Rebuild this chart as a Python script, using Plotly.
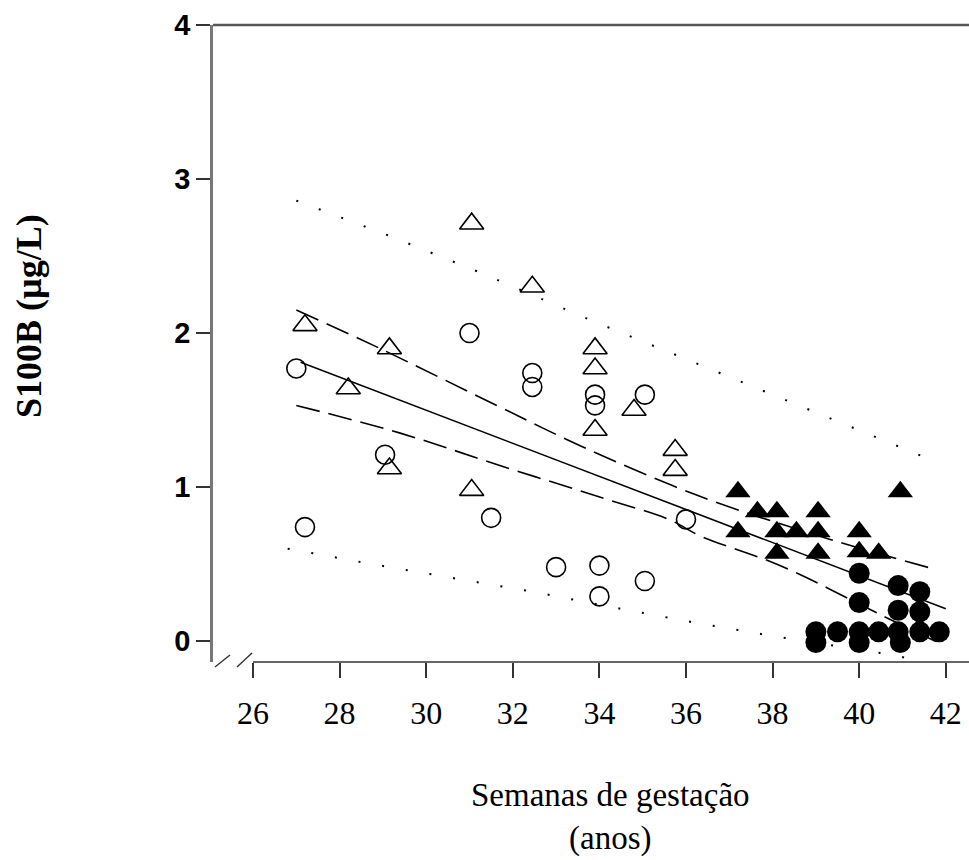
import plotly.graph_objects as go

# ---------------- data ----------------
# open triangles
open_tri_x = [27.2, 28.2, 29.15, 29.15, 31.05, 31.05, 32.45, 33.9, 33.9, 33.9, 34.8, 35.75, 35.75]
open_tri_y = [2.05, 1.64, 1.90, 1.12, 2.71, 0.98, 2.30, 1.90, 1.77, 1.37, 1.50, 1.24, 1.11]
# open circles
open_circ_x = [27.0, 27.2, 29.05, 31.0, 31.5, 32.45, 32.45, 33.0, 33.9, 33.9, 34.0, 34.0, 35.05, 35.05, 36.0]
open_circ_y = [1.77, 0.74, 1.21, 2.00, 0.80, 1.74, 1.65, 0.48, 1.60, 1.53, 0.49, 0.29, 1.60, 0.39, 0.79]
# filled triangles
fill_tri_x = [37.2, 37.2, 37.65, 38.1, 38.1, 38.1, 38.55, 39.05, 39.05, 39.05, 40.0, 40.0, 40.45, 40.95]
fill_tri_y = [0.97, 0.71, 0.84, 0.84, 0.71, 0.57, 0.71, 0.84, 0.71, 0.57, 0.71, 0.58, 0.57, 0.97]
# filled circles
fill_circ_x = [39.0, 39.0, 39.5, 40.0, 40.0, 40.0, 40.0, 40.45, 40.9, 40.9, 40.9, 40.95, 41.4, 41.4, 41.4, 41.85]
fill_circ_y = [0.06, -0.01, 0.06, 0.44, 0.25, 0.06, -0.01, 0.06, 0.36, 0.20, 0.06, -0.01, 0.32, 0.19, 0.06, 0.06]

# regression line
reg_x = [27.1, 42.0]
reg_y = [1.81, 0.21]
# confidence band (dashed)
ci_up_x = [27.0, 28.93, 31.7, 33.62, 36.32, 39.33, 41.7]
ci_up_y = [2.15, 1.90, 1.52, 1.26, 0.94, 0.66, 0.47]
ci_lo_x = [27.0, 29.4, 31.7, 34.06, 35.6, 36.35, 37.82, 38.57, 39.3, 40.5, 41.9]
ci_lo_y = [1.53, 1.35, 1.14, 0.93, 0.79, 0.68, 0.53, 0.44, 0.34, 0.17, -0.02]
# prediction band (dotted)
pr_up_x = [27.0, 29.16, 31.27, 33.83, 36.44, 39.02, 41.63]
pr_up_y = [2.86, 2.63, 2.39, 2.08, 1.78, 1.48, 1.18]
pr_lo_x = [26.8, 28.74, 30.6, 32.47, 34.3, 36.2, 38.06, 40.55, 41.1]
pr_lo_y = [0.60, 0.50, 0.41, 0.32, 0.22, 0.12, 0.03, -0.08, -0.11]

x_ticks = [26, 28, 30, 32, 34, 36, 38, 40, 42]
y_ticks = [0, 1, 2, 3, 4]

X_RANGE = [25.076, 42.536]
Y_RANGE = [-0.136, 4.0]

W, H = 969, 860
ML, MR, MT, MB = 213, 0, 25, 198
PW, PH = W - ML - MR, H - MT - MB


def px_to_paper(px, py):
    return (px - ML) / PW, (H - MB - py) / PH


fig = go.Figure()

line_style = dict(color="black", width=1.6)
fig.add_trace(go.Scatter(x=pr_up_x, y=pr_up_y, mode="lines", line=dict(color="black", width=2, dash="2px,22px")))
fig.add_trace(go.Scatter(x=pr_lo_x, y=pr_lo_y, mode="lines", line=dict(color="black", width=2, dash="2px,22px")))
fig.add_trace(go.Scatter(x=ci_up_x, y=ci_up_y, mode="lines", line_shape="spline",
                         line=dict(color="black", width=1.6, dash="24px,9px")))
fig.add_trace(go.Scatter(x=ci_lo_x, y=ci_lo_y, mode="lines", line_shape="spline",
                         line=dict(color="black", width=1.6, dash="24px,9px")))
fig.add_trace(go.Scatter(x=reg_x, y=reg_y, mode="lines", line=line_style))

fig.add_trace(go.Scatter(x=open_circ_x, y=open_circ_y, mode="markers",
                         marker=dict(symbol="circle-open", size=19, color="black", line=dict(width=1.6))))
fig.add_trace(go.Scatter(x=open_tri_x, y=open_tri_y, mode="markers",
                         marker=dict(symbol="triangle-up-open", size=21, color="black", line=dict(width=1.6))))
fig.add_trace(go.Scatter(x=fill_tri_x, y=fill_tri_y, mode="markers",
                         marker=dict(symbol="triangle-up", size=22, color="black", line=dict(width=0))))
fig.add_trace(go.Scatter(x=fill_circ_x, y=fill_circ_y, mode="markers",
                         marker=dict(symbol="circle", size=21, color="black", line=dict(width=0))))

# frame pieces: top line, bottom axis line starting at 26
x26 = (26 - X_RANGE[0]) / (X_RANGE[1] - X_RANGE[0])
fig.add_shape(type="line", xref="paper", yref="paper", x0=0, x1=1, y0=1, y1=1,
              line=dict(color="#555555", width=2.5))
fig.add_shape(type="line", xref="paper", yref="paper", x0=x26, x1=1, y0=0, y1=0,
              line=dict(color="#333333", width=1.6))
# axis break marks
for (a, b) in [((215, 667), (230, 655)), ((237, 667), (252, 653))]:
    x0, y0 = px_to_paper(*a)
    x1, y1 = px_to_paper(*b)
    fig.add_shape(type="line", xref="paper", yref="paper", x0=x0, y0=y0, x1=x1, y1=y1,
                  line=dict(color="#333333", width=1.4))

# axis titles
tx, ty = px_to_paper(29, 316)
fig.add_annotation(text="<b>S100B (µg/L)</b>", xref="paper", yref="paper", x=tx, y=ty,
                   xanchor="center", yanchor="middle", textangle=-90, showarrow=False,
                   font=dict(family="Liberation Serif, Times New Roman, serif", size=36, color="black"))
t1x, t1y = px_to_paper(610, 795)
fig.add_annotation(text="Semanas de gestação", xref="paper", yref="paper", x=t1x, y=t1y,
                   xanchor="center", yanchor="middle", showarrow=False,
                   font=dict(family="Liberation Serif, Times New Roman, serif", size=33, color="black"))
t2x, t2y = px_to_paper(610, 838)
fig.add_annotation(text="(anos)", xref="paper", yref="paper", x=t2x, y=t2y,
                   xanchor="center", yanchor="middle", showarrow=False,
                   font=dict(family="Liberation Serif, Times New Roman, serif", size=33, color="black"))

fig.update_layout(
    width=W, height=H,
    margin=dict(l=ML, r=MR, t=MT, b=MB, pad=0),
    paper_bgcolor="white", plot_bgcolor="white",
    showlegend=False,
    xaxis=dict(range=X_RANGE, tickvals=x_ticks, ticktext=[str(v) for v in x_ticks],
               showgrid=False, zeroline=False, showline=False,
               ticks="outside", ticklen=15, tickwidth=1.5, tickcolor="#333333",
               ticklabelstandoff=8,
               tickfont=dict(family="Liberation Serif, Times New Roman, serif", size=32, color="black")),
    yaxis=dict(range=Y_RANGE, tickvals=y_ticks, ticktext=[str(v) for v in y_ticks],
               showgrid=False, zeroline=False, showline=True, linecolor="#777777", linewidth=2.5,
               ticks="outside", ticklen=14, tickwidth=1.5, tickcolor="#333333",
               tickfont=dict(family="Liberation Sans, Arial, sans-serif", size=29, color="black", weight="bold")),
)

fig.write_html("out.html")
